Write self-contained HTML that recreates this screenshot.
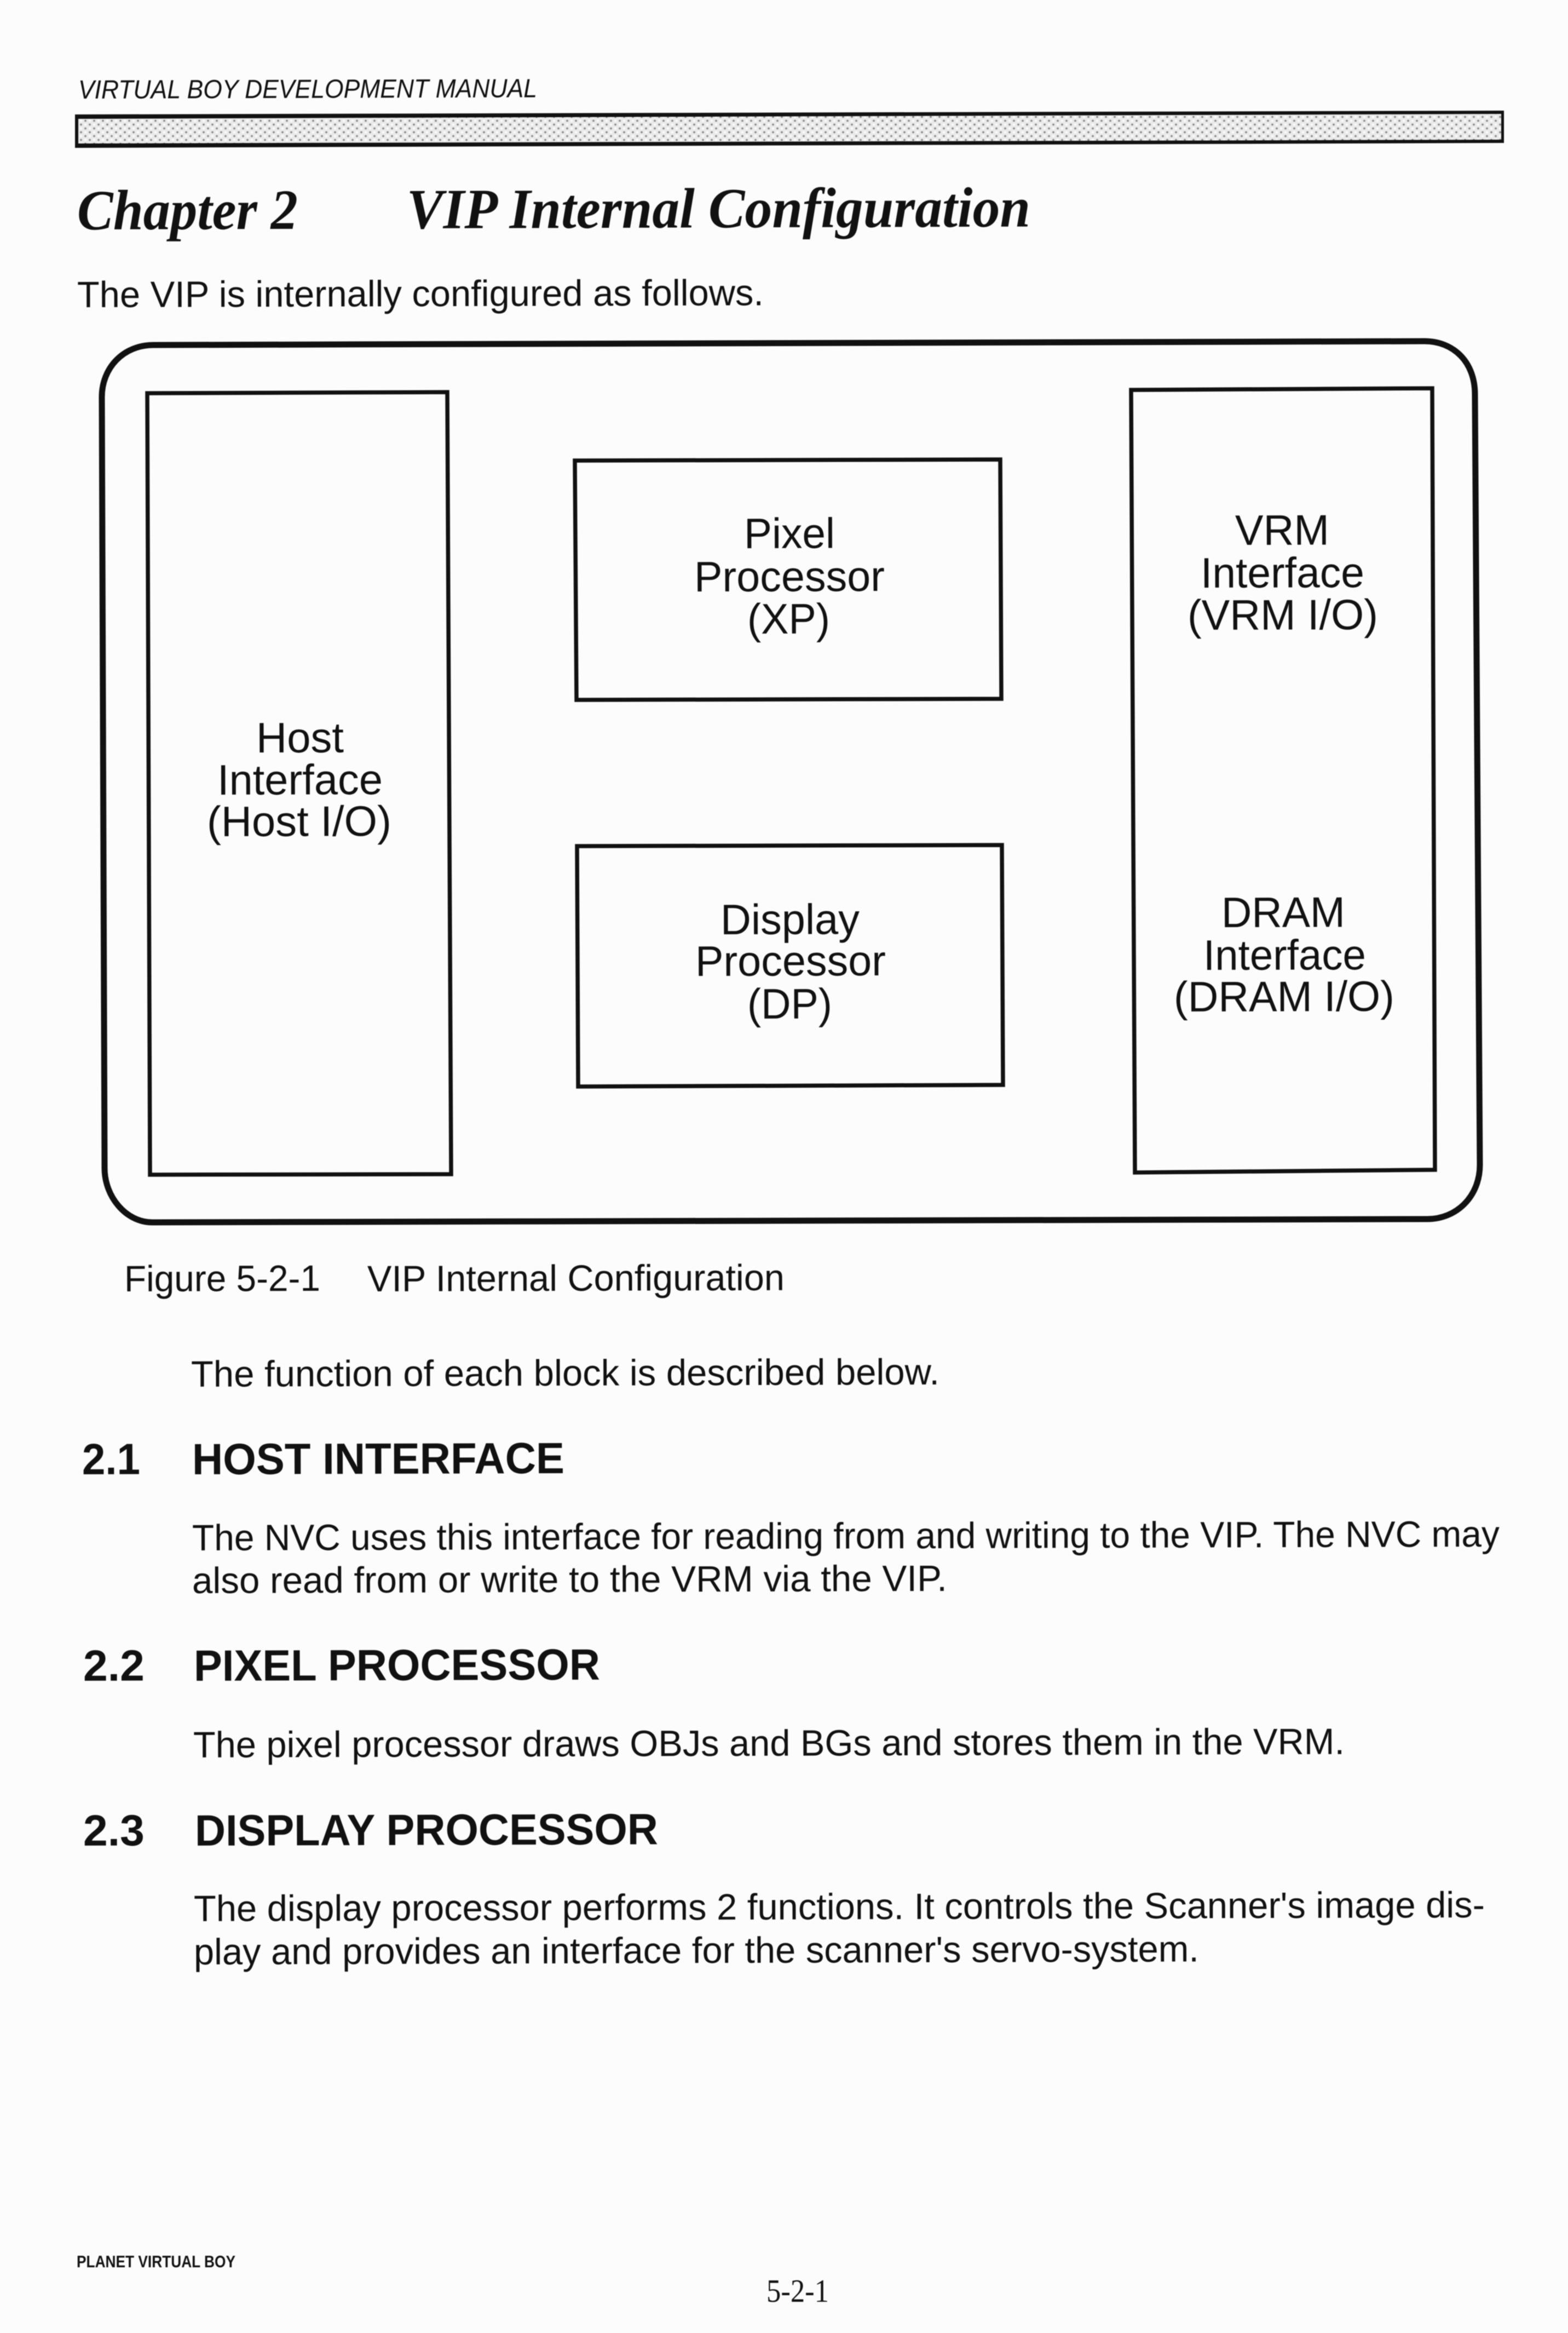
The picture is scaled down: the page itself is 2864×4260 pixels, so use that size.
<!DOCTYPE html>
<html lang="en">
<head>
<meta charset="utf-8">
<title>VIP Internal Configuration</title>
<style>
html,body{margin:0;padding:0;background:#fcfcfc;width:2864px;height:4260px;overflow:hidden}
svg{display:block;filter:blur(.8px)}
text{fill:#111;font-family:"Liberation Sans",Arial,sans-serif}
.d{font-size:78px}
.p{font-size:67px}
.h{font-size:80px;font-weight:bold}
.c{font-family:"Liberation Serif","Times New Roman",serif;font-weight:bold;font-style:italic;font-size:104px}
</style>
</head>
<body>
<svg xmlns="http://www.w3.org/2000/svg" width="2864" height="4260" viewBox="0 0 2864 4260">
<defs>
<pattern id="dots" width="16" height="14" patternUnits="userSpaceOnUse">
<rect width="16" height="14" fill="#e9e9e9"/>
<circle cx="4" cy="3.5" r="1.9" fill="#8a8a8a"/>
<circle cx="12" cy="10.5" r="1.9" fill="#8a8a8a"/>
<circle cx="12" cy="3.5" r="2.4" fill="#f9f9f9"/>
<circle cx="4" cy="10.5" r="2.4" fill="#f9f9f9"/>
</pattern>
</defs>

<text transform="translate(143 180) rotate(-.17)" font-size="48" font-style="italic" textLength="838" lengthAdjust="spacingAndGlyphs">VIRTUAL BOY DEVELOPMENT MANUAL</text>

<polygon points="137,209 2747,202 2747,261 137,270" fill="#111"/>
<polygon points="143,217 2742,208 2742,255 143,262" fill="url(#dots)"/>

<text class="c" transform="translate(141 419) rotate(-.17)" textLength="403" lengthAdjust="spacingAndGlyphs">Chapter 2</text>
<text class="c" transform="translate(743 417) rotate(-.17)" textLength="1139" lengthAdjust="spacingAndGlyphs">VIP Internal Configuration</text>

<text class="p" transform="translate(141 561) rotate(-.17)" textLength="1254" lengthAdjust="spacingAndGlyphs">The VIP is internally configured as follows.</text>

<!-- outer rounded frame -->
<path d="M280 630 L2602 623 C2654 623 2694 660 2694 720 L2703 2127 C2703 2185 2660 2226 2607 2226 L278 2232 C230 2232 191 2185 191 2133 L186 725 C186 672 225 630 280 630 Z" fill="none" stroke="#111" stroke-width="11"/>

<!-- blocks -->
<g fill="none" stroke="#111" stroke-width="7.5" stroke-linejoin="miter">
<polygon points="269,718 817,716 824,2144 274,2145"/>
<polygon points="1050,841 1827,839 1829,1276 1053,1278"/>
<polygon points="1054,1545 1830,1543 1832,1981 1056,1984"/>
<polygon points="2066,712 2616,709 2621,2136 2073,2141"/>
</g>

<!-- block labels -->
<text class="d" transform="translate(468 1374) rotate(-.17)" textLength="160" lengthAdjust="spacingAndGlyphs">Host</text>
<text class="d" transform="translate(397 1451) rotate(-.17)" textLength="302" lengthAdjust="spacingAndGlyphs">Interface</text>
<text class="d" transform="translate(378 1527) rotate(-.17)" textLength="337" lengthAdjust="spacingAndGlyphs">(Host I/O)</text>

<text class="d" transform="translate(1359 1001) rotate(-.17)" textLength="166" lengthAdjust="spacingAndGlyphs">Pixel</text>
<text class="d" transform="translate(1268 1080) rotate(-.17)" textLength="348" lengthAdjust="spacingAndGlyphs">Processor</text>
<text class="d" transform="translate(1365 1157) rotate(-.17)" textLength="151" lengthAdjust="spacingAndGlyphs">(XP)</text>

<text class="d" transform="translate(1316 1706) rotate(-.17)" textLength="254" lengthAdjust="spacingAndGlyphs">Display</text>
<text class="d" transform="translate(1270 1782) rotate(-.17)" textLength="348" lengthAdjust="spacingAndGlyphs">Processor</text>
<text class="d" transform="translate(1365 1860) rotate(-.17)" textLength="155" lengthAdjust="spacingAndGlyphs">(DP)</text>

<text class="d" transform="translate(2256 995) rotate(-.17)" textLength="172" lengthAdjust="spacingAndGlyphs">VRM</text>
<text class="d" transform="translate(2193 1073) rotate(-.17)" textLength="299" lengthAdjust="spacingAndGlyphs">Interface</text>
<text class="d" transform="translate(2169 1150) rotate(-.17)" textLength="348" lengthAdjust="spacingAndGlyphs">(VRM I/O)</text>

<text class="d" transform="translate(2231 1693) rotate(-.17)" textLength="226" lengthAdjust="spacingAndGlyphs">DRAM</text>
<text class="d" transform="translate(2198 1771) rotate(-.17)" textLength="297" lengthAdjust="spacingAndGlyphs">Interface</text>
<text class="d" transform="translate(2144 1847) rotate(-.17)" textLength="403" lengthAdjust="spacingAndGlyphs">(DRAM I/O)</text>

<!-- caption -->
<text class="p" transform="translate(227 2358) rotate(-.17)" textLength="358" lengthAdjust="spacingAndGlyphs">Figure 5-2-1</text>
<text class="p" transform="translate(671 2358) rotate(-.17)" textLength="762" lengthAdjust="spacingAndGlyphs">VIP Internal Configuration</text>

<text class="p" transform="translate(349 2532) rotate(-.17)" textLength="1367" lengthAdjust="spacingAndGlyphs">The function of each block is described below.</text>

<!-- 2.1 -->
<text class="h" transform="translate(150 2692) rotate(-.17)" textLength="106" lengthAdjust="spacingAndGlyphs">2.1</text>
<text class="h" transform="translate(351 2692) rotate(-.17)" textLength="680" lengthAdjust="spacingAndGlyphs">HOST INTERFACE</text>
<text class="p" transform="translate(351 2831) rotate(-.17)" textLength="2388" lengthAdjust="spacingAndGlyphs">The NVC uses this interface for reading from and writing to the VIP. The NVC may</text>
<text class="p" transform="translate(351 2909) rotate(-.17)" textLength="1379" lengthAdjust="spacingAndGlyphs">also read from or write to the VRM via the VIP.</text>

<!-- 2.2 -->
<text class="h" transform="translate(152 3069) rotate(-.17)" textLength="112" lengthAdjust="spacingAndGlyphs">2.2</text>
<text class="h" transform="translate(354 3069) rotate(-.17)" textLength="742" lengthAdjust="spacingAndGlyphs">PIXEL PROCESSOR</text>
<text class="p" transform="translate(353 3209) rotate(-.17)" textLength="2103" lengthAdjust="spacingAndGlyphs">The pixel processor draws OBJs and BGs and stores them in the VRM.</text>

<!-- 2.3 -->
<text class="h" transform="translate(152 3370) rotate(-.17)" textLength="112" lengthAdjust="spacingAndGlyphs">2.3</text>
<text class="h" transform="translate(356 3370) rotate(-.17)" textLength="846" lengthAdjust="spacingAndGlyphs">DISPLAY PROCESSOR</text>
<text class="p" transform="translate(354 3508) rotate(-.17)" textLength="2358" lengthAdjust="spacingAndGlyphs">The display processor performs 2 functions. It controls the Scanner's image dis-</text>
<text class="p" transform="translate(354 3587) rotate(-.17)" textLength="1836" lengthAdjust="spacingAndGlyphs">play and provides an interface for the scanner's servo-system.</text>

<!-- footer -->
<text transform="translate(140 4140)" font-size="31" font-weight="bold" textLength="290" lengthAdjust="spacingAndGlyphs">PLANET VIRTUAL BOY</text>
<text transform="translate(1400 4203)" font-size="59" style="font-family:'Liberation Serif','Times New Roman',serif" textLength="114" lengthAdjust="spacingAndGlyphs">5-2-1</text>
</svg>
</body>
</html>
